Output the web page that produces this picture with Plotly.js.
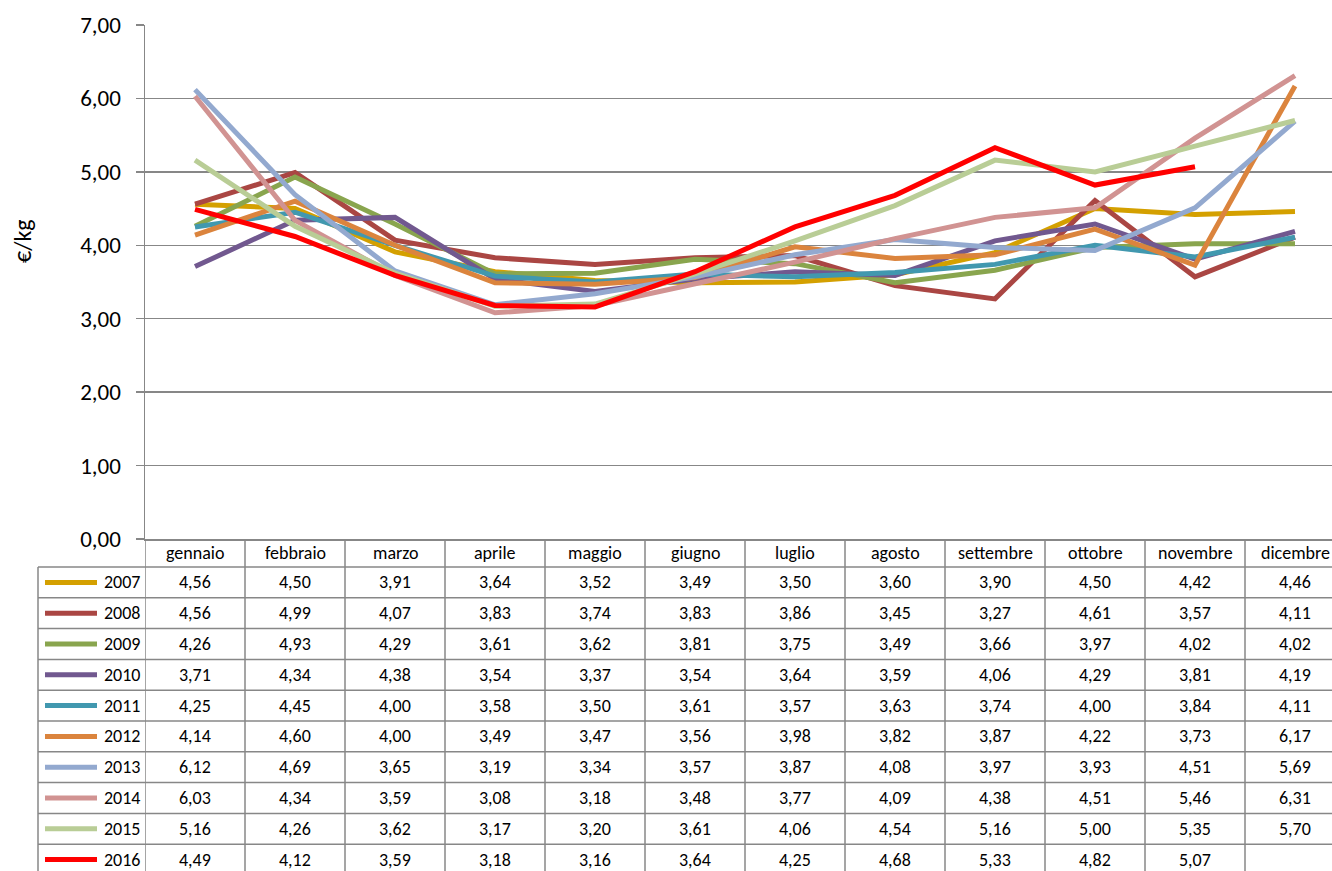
<!DOCTYPE html>
<html>
<head>
<meta charset="utf-8">
<script src="https://cdn.plot.ly/plotly-3.0.1.min.js"></script>
<style>
html,body{margin:0;padding:0;background:#fff;}
#chart{width:1332px;height:871px;}
</style>
</head>
<body>
<div id="chart"></div>
<script>
const months = ['gennaio','febbraio','marzo','aprile','maggio','giugno','luglio','agosto','settembre','ottobre','novembre','dicembre'];
const years = ['2007','2008','2009','2010','2011','2012','2013','2014','2015','2016'];
const v2007 = [4.56,4.50,3.91,3.64,3.52,3.49,3.50,3.60,3.90,4.50,4.42,4.46];
const v2008 = [4.56,4.99,4.07,3.83,3.74,3.83,3.86,3.45,3.27,4.61,3.57,4.11];
const v2009 = [4.26,4.93,4.29,3.61,3.62,3.81,3.75,3.49,3.66,3.97,4.02,4.02];
const v2010 = [3.71,4.34,4.38,3.54,3.37,3.54,3.64,3.59,4.06,4.29,3.81,4.19];
const v2011 = [4.25,4.45,4.00,3.58,3.50,3.61,3.57,3.63,3.74,4.00,3.84,4.11];
const v2012 = [4.14,4.60,4.00,3.49,3.47,3.56,3.98,3.82,3.87,4.22,3.73,6.17];
const v2013 = [6.12,4.69,3.65,3.19,3.34,3.57,3.87,4.08,3.97,3.93,4.51,5.69];
const v2014 = [6.03,4.34,3.59,3.08,3.18,3.48,3.77,4.09,4.38,4.51,5.46,6.31];
const v2015 = [5.16,4.26,3.62,3.17,3.20,3.61,4.06,4.54,5.16,5.00,5.35,5.70];
const v2016 = [4.49,4.12,3.59,3.18,3.16,3.64,4.25,4.68,5.33,4.82,5.07,null];
const yTicks = [0,1,2,3,4,5,6,7];
const yTitle = '€/kg';

const seriesValues = [v2007,v2008,v2009,v2010,v2011,v2012,v2013,v2014,v2015,v2016];
const seriesColors = ['#D4A000','#AA4643','#89A54E','#71588F','#4198AF','#DB843D','#93A9CF','#D19392','#B9CD96','#FF0000'];

const FONT = 'Carlito, Lato, "Open Sans", sans-serif';
const W = 1332, H = 871;
const mL = 145, mR = 0, mT = 25, mB = 332;
const plotW = W - mL - mR, plotH = H - mT - mB;
const colW = 100;
const xMax = -0.5 + plotW / colW;
const GRID = '#878787';

function py(pix){ return (H - mB - pix) / plotH; }
function px(pix){ return (pix - mL) / plotW; }

const headerBottom = 567;
const rowH = 30.8;

const traces = years.map((y, i) => ({
  type: 'scatter', mode: 'lines', name: y,
  x: months, y: seriesValues[i],
  line: {color: seriesColors[i], width: 5},
  connectgaps: false, hoverinfo: 'x+y+name'
}));

const shapes = [];
const annotations = [];

for (let i = 0; i <= 12; i++) {
  shapes.push({type:'line', xref:'x', yref:'paper', x0:i-0.5, x1:i-0.5, y0:0, y1:py(H+10),
    line:{color:GRID, width:1.5}});
}
shapes.push({type:'line', xref:'paper', yref:'paper', x0:px(38), x1:px(38), y0:py(headerBottom), y1:py(H+10),
  line:{color:GRID, width:1.5}});
for (let r = 0; r <= years.length; r++) {
  const yy = headerBottom + r * rowH;
  shapes.push({type:'line', xref:'paper', yref:'paper', x0:px(38), x1:1, y0:py(yy), y1:py(yy),
    line:{color:GRID, width:1.5}});
}
months.forEach((m, i) => {
  annotations.push({xref:'x', yref:'paper', x:i, y:py((539+headerBottom)/2), text:m, showarrow:false,
    xanchor:'center', yanchor:'middle', font:{family:FONT, size:18, color:'#000'}});
});
years.forEach((yr, r) => {
  const cy = headerBottom + (r + 0.5) * rowH;
  shapes.push({type:'line', xref:'paper', yref:'paper', x0:px(45), x1:px(97), y0:py(cy), y1:py(cy),
    line:{color:seriesColors[r], width:5}});
  annotations.push({xref:'paper', yref:'paper', x:px(102), y:py(cy), text:yr, showarrow:false,
    xanchor:'left', yanchor:'middle', font:{family:FONT, size:18, color:'#000'}});
  seriesValues[r].forEach((v, i) => {
    if (v === null) return;
    annotations.push({xref:'x', yref:'paper', x:i, y:py(cy), text:v.toFixed(2).replace('.', ','), showarrow:false,
      xanchor:'center', yanchor:'middle', font:{family:FONT, size:18, color:'#000'}});
  });
});
annotations.push({xref:'paper', yref:'paper', x:px(23), y:py(241), text:yTitle, textangle:-90, showarrow:false,
  xanchor:'center', yanchor:'middle', font:{family:FONT, size:24, color:'#000'}});

const layout = {
  width: W, height: H,
  margin: {l:mL, r:mR, t:mT, b:mB, pad:0},
  paper_bgcolor:'#fff', plot_bgcolor:'#fff',
  showlegend: false,
  separators: ',.',
  xaxis: {
    type:'category', range:[-0.5, xMax], showticklabels:false, showgrid:false, zeroline:false,
    showline:true, linecolor:GRID, linewidth:1.5, ticks:'', fixedrange:true
  },
  yaxis: {
    range:[0,7], tickvals:yTicks, tickformat:'.2f', showgrid:true, gridcolor:GRID, gridwidth:1.5,
    zeroline:false, showline:true, linecolor:GRID, linewidth:1.5, ticks:'outside', ticklen:8, tickcolor:GRID, tickwidth:1.5,
    ticklabelstandoff:10,
    tickfont:{family:FONT, size:23, color:'#000'}, fixedrange:true
  },
  shapes: shapes,
  annotations: annotations
};

Plotly.newPlot('chart', traces, layout, {displayModeBar:false, staticPlot:true});
</script>
</body>
</html>
